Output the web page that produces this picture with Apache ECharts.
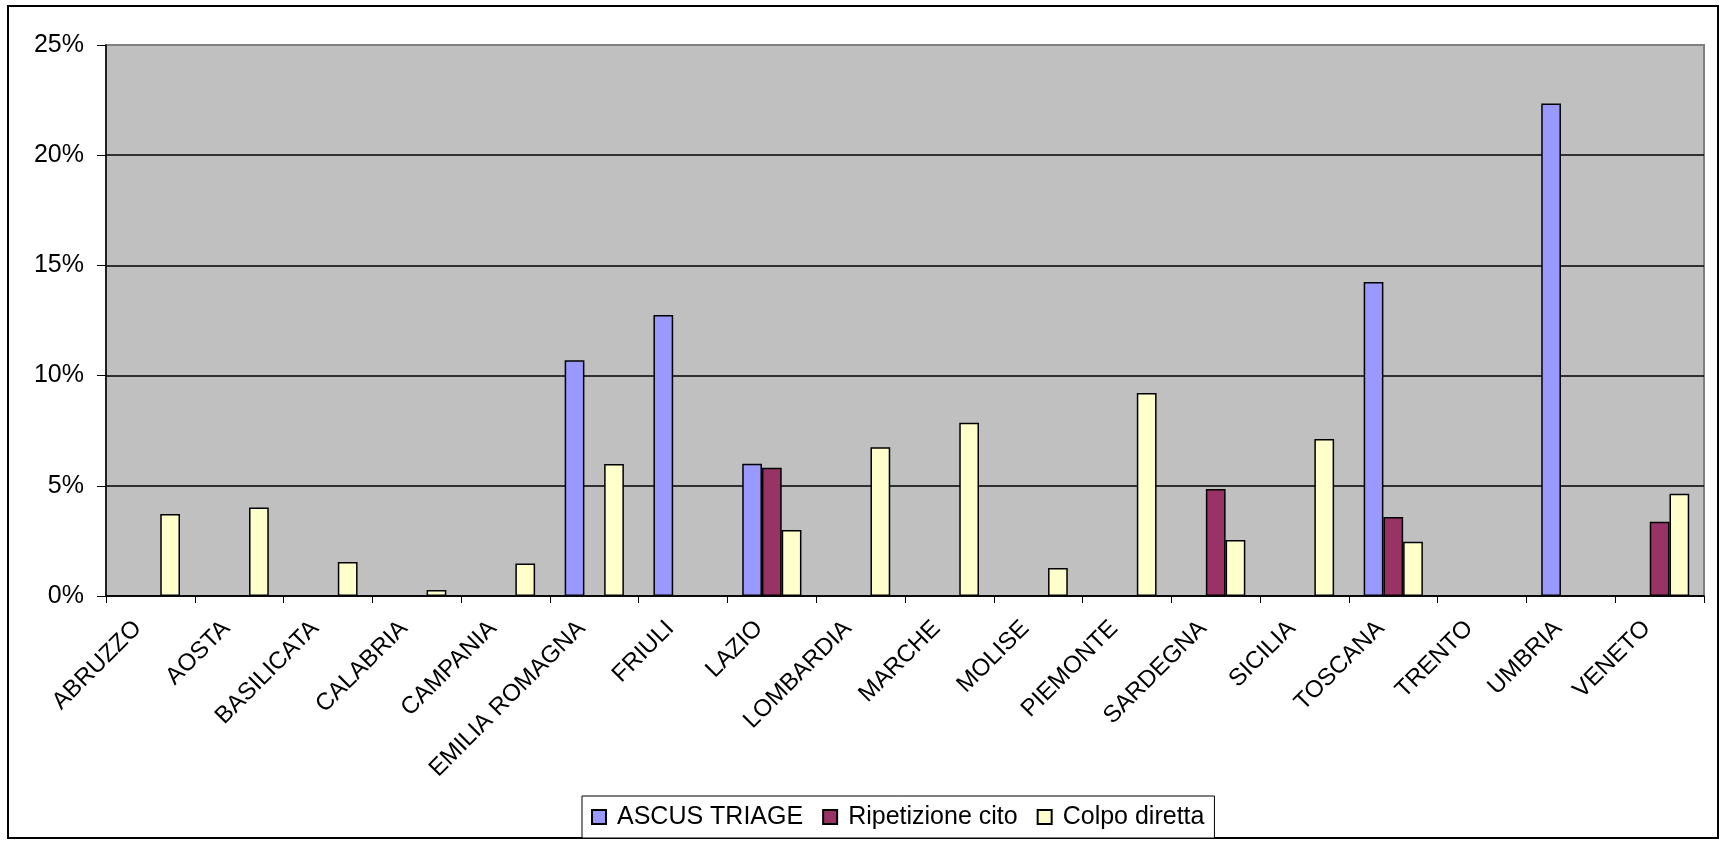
<!DOCTYPE html>
<html>
<head>
<meta charset="utf-8">
<script src="https://cdn.jsdelivr.net/npm/echarts@6/dist/echarts.min.js"></script>
<style>
html,body{margin:0;padding:0;background:#fff;}
#chart{width:1721px;height:842px;}
</style>
</head>
<body>
<div id="chart"></div>
<script>
const categories = ["ABRUZZO","AOSTA","BASILICATA","CALABRIA","CAMPANIA","EMILIA ROMAGNA","FRIULI","LAZIO","LOMBARDIA","MARCHE","MOLISE","PIEMONTE","SARDEGNA","SICILIA","TOSCANA","TRENTO","UMBRIA","VENETO"];
const seriesNames = ["ASCUS TRIAGE","Ripetizione cito","Colpo diretta"];
const ascusTriage = [null,null,null,null,null,10.7,12.75,6.0,null,null,null,null,null,null,14.25,null,22.35,null];
const ripetizioneCito = [null,null,null,null,null,null,null,5.82,null,null,null,null,4.85,null,3.58,null,null,3.37];
const colpoDiretta = [3.72,4.02,1.54,0.27,1.47,5.99,null,2.99,6.75,7.86,1.27,9.21,2.54,7.12,2.46,null,null,4.64];
const yTicks = [0,5,10,15,20,25];
const colors = ["#9999FF","#993366","#FFFFCC"];

const font = "'Liberation Sans', Arial, sans-serif";
const chart = echarts.init(document.getElementById('chart'), null, {renderer:'canvas'});
const mk = (name, data, color) => ({
  name, type:'bar', data,
  barGap:'0%', barCategoryGap:'33.3%',
  itemStyle:{color, borderColor:'#000', borderWidth:1.5},
  emphasis:{disabled:true}
});
chart.setOption({
  animation:false,
  backgroundColor:'#fff',
  textStyle:{fontFamily:font},
  graphic:[{type:'rect', shape:{x:8,y:6,width:1710,height:832}, style:{fill:'none', stroke:'#000', lineWidth:2}, z:-1}],
  grid:{left:106, right:17, top:45, bottom:246, show:true, backgroundColor:'#C0C0C0', borderColor:'#808080', borderWidth:2},
  legend:{
    data:seriesNames, left:582, top:796, orient:'horizontal',
    itemWidth:14, itemHeight:14, itemGap:19,
    padding:[8,10,8,9],
    borderColor:'#000', borderWidth:1, backgroundColor:'#fff',
    icon:'rect',
    textStyle:{fontSize:25, color:'#000', fontFamily:font, padding:[0,0,0,6], lineHeight:26}
  },
  xAxis:{
    type:'category', data:categories,
    axisLine:{lineStyle:{color:'#000', width:1.5}},
    axisTick:{show:true, length:7, lineStyle:{color:'#000'}},
    axisLabel:{interval:0, rotate:45, fontSize:24, color:'#000', fontFamily:font, margin:16, padding:[0,18,0,0]},
    splitLine:{show:false}
  },
  yAxis:{
    type:'value', min:yTicks[0], max:yTicks[yTicks.length-1], interval:5,
    axisLine:{show:true, lineStyle:{color:'#000', width:1.5}},
    axisTick:{show:true, length:9, lineStyle:{color:'#000'}},
    axisLabel:{formatter:'{value}%', fontSize:25, color:'#000', fontFamily:font, margin:22},
    splitLine:{show:true, showMaxLine:false, lineStyle:{color:'#000', width:1.5}}
  },
  series:[mk(seriesNames[0], ascusTriage, colors[0]), mk(seriesNames[1], ripetizioneCito, colors[1]), mk(seriesNames[2], colpoDiretta, colors[2])]
});
</script>
</body>
</html>
